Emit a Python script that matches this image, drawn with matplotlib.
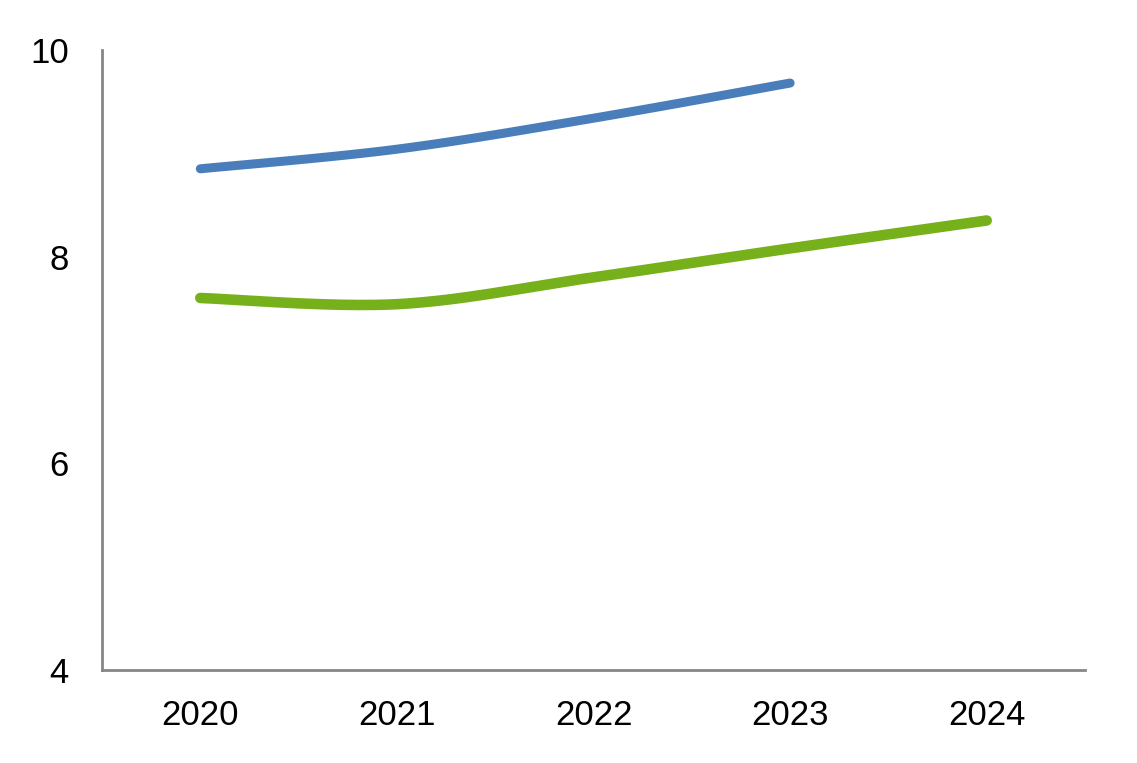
import numpy as np
import matplotlib
matplotlib.use("Agg")
import matplotlib.pyplot as plt

years = ["2020", "2021", "2022", "2023", "2024"]
series_blue = [8.85, 9.04, 9.34, 9.68]
series_green = [7.60, 7.54, 7.80, 8.08, 8.35]
yticks = [4, 6, 8, 10]

plt.rcParams['font.family'] = ['Liberation Sans', 'DejaVu Sans']


def smooth(xs, ys, n=40):
    # Catmull-Rom style smoothing (like spreadsheet "smoothed line")
    xs = np.asarray(xs, float)
    ys = np.asarray(ys, float)
    px = np.concatenate([[xs[0]], xs, [xs[-1]]])
    py = np.concatenate([[ys[0]], ys, [ys[-1]]])
    outx, outy = [], []
    for i in range(1, len(px) - 2):
        p0 = np.array([px[i - 1], py[i - 1]])
        p1 = np.array([px[i], py[i]])
        p2 = np.array([px[i + 1], py[i + 1]])
        p3 = np.array([px[i + 2], py[i + 2]])
        c1 = p1 + (p2 - p0) / 6.0
        c2 = p2 - (p3 - p1) / 6.0
        t = np.linspace(0, 1, n)[:, None]
        b = ((1 - t) ** 3) * p1 + 3 * ((1 - t) ** 2) * t * c1 + 3 * (1 - t) * t ** 2 * c2 + t ** 3 * p2
        outx.extend(b[:, 0])
        outy.extend(b[:, 1])
    return np.array(outx), np.array(outy)


fig = plt.figure(figsize=(11.37, 7.63), dpi=100)
ax = fig.add_axes([0.0897, 0.1219, 0.8646, 0.8126])

xb, yb = smooth(range(len(series_blue)), series_blue)
xg, yg = smooth(range(len(series_green)), series_green)
ax.plot(xb, yb, color="#4a7ebb", lw=6.5, solid_capstyle="round", solid_joinstyle="round")
ax.plot(xg, yg, color="#76b01a", lw=7.6, solid_capstyle="round", solid_joinstyle="round")

ax.set_xlim(-0.5, len(years) - 0.5)
ax.set_ylim(4, 10)
ax.set_xticks(range(len(years)))
ax.set_xticklabels(years)
ax.set_yticks(yticks)
ax.tick_params(axis="both", length=0, labelsize=25, colors="black")
ax.tick_params(axis="y", pad=24)
ax.tick_params(axis="x", pad=21)
for s in ["top", "right"]:
    ax.spines[s].set_visible(False)
for s in ["left", "bottom"]:
    ax.spines[s].set_color("#868686")
    ax.spines[s].set_linewidth(2.0)

fig.savefig("out.png", dpi=100)
